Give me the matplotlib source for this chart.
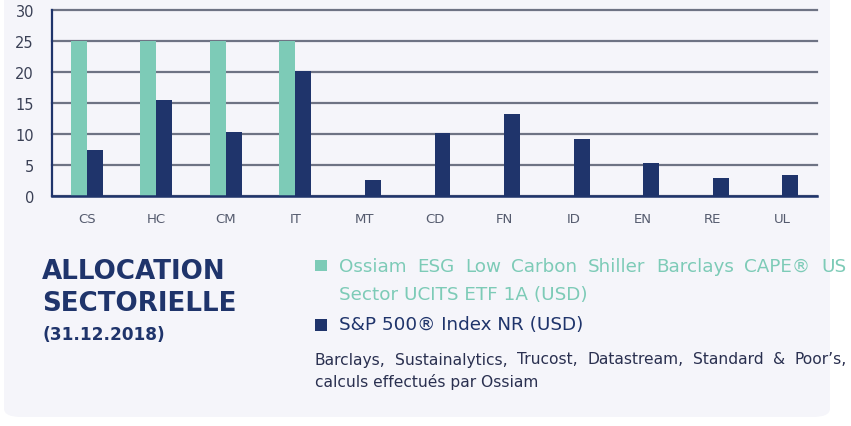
import matplotlib
matplotlib.use("Agg")
import matplotlib.pyplot as plt
from matplotlib.patches import FancyBboxPatch, Rectangle
import numpy as np

categories = ["CS", "HC", "CM", "IT", "MT", "CD", "FN", "ID", "EN", "RE", "UL"]
fund_values = [25, 25, 25, 25, 0, 0, 0, 0, 0, 0, 0]
index_values = [7.4, 15.5, 10.3, 20.1, 2.7, 10.1, 13.2, 9.2, 5.3, 3.0, 3.5]
y_ticks = [0, 5, 10, 15, 20, 25, 30]

fund_label_1 = "Ossiam ESG Low Carbon Shiller Barclays CAPE® US"
fund_label_2 = "Sector UCITS ETF 1A (USD)"
index_label = "S&P 500® Index NR (USD)"
source_1 = "Barclays, Sustainalytics, Trucost, Datastream, Standard & Poor’s,"
source_2 = "calculs effectués par Ossiam"

TEAL = "#7dcbb7"
NAVY = "#1f346b"
PANEL = "#f5f5fa"
GRID = "#6e7384"
TICK = "#555b6e"

W, H = 851, 427
fig = plt.figure(figsize=(W / 100, H / 100), dpi=100, facecolor="white")

# background panel
panel = FancyBboxPatch((4 / W, 9 / H), (830 - 4) / W, 1.2, boxstyle="round,pad=0,rounding_size=0.02",
                       transform=fig.transFigure, facecolor=PANEL, edgecolor="none", zorder=-5)
fig.patches.append(panel)

left, right, top, bottom = 52, 817, 10.7, 197.3
ax = fig.add_axes([left / W, 1 - bottom / H, (right - left) / W, (bottom - top) / H])
ax.set_facecolor("none")
ax.set_zorder(2)

x = np.arange(len(categories))
bw = 0.23
ax.bar(x - bw / 2, fund_values, width=bw, color=TEAL, zorder=3)
ax.bar(x + bw / 2, index_values, width=bw, color=NAVY, zorder=3)

ax.set_xlim(-0.5, len(categories) - 0.5)
ax.set_ylim(0, 30)
ax.set_yticks(y_ticks)
ax.set_xticks(x)
ax.set_xticklabels(categories)
ax.yaxis.grid(True, color=GRID, linewidth=1.6, zorder=1)
for gl in ax.get_ygridlines():
    gl.set_clip_on(False)
ax.set_axisbelow(True)
for s in ["top", "right"]:
    ax.spines[s].set_visible(False)
ax.spines["left"].set_color(NAVY)
ax.spines["left"].set_linewidth(1.6)
ax.spines["bottom"].set_color(NAVY)
ax.spines["bottom"].set_linewidth(1.8)
ax.spines["bottom"].set_zorder(4)
ax.tick_params(axis="both", length=0)
ax.tick_params(axis="y", labelsize=10.5, labelcolor="#3a4055", pad=13)
ax.tick_params(axis="x", labelsize=9.5, labelcolor=TICK, pad=11)
for lab in ax.get_yticklabels() + ax.get_xticklabels():
    lab.set_family("DejaVu Sans")

renderer = fig.canvas.get_renderer()


def justified(text, x0, x1, ypix, **kw):
    words = text.split(" ")
    arts = [fig.text(0, 0, w, va="center", ha="left", **kw) for w in words]
    widths = [a.get_window_extent(renderer).width for a in arts]
    gap = (x1 - x0 - sum(widths)) / max(len(words) - 1, 1)
    xp = x0
    for a, w in zip(arts, widths):
        a.set_position((xp / W, 1 - ypix / H))
        xp += w + gap


# Title block
fig.text(42 / W, 1 - 272 / H, "ALLOCATION", fontsize=18.8, fontweight="bold", family="DejaVu Sans",
         color=NAVY, va="center", ha="left")
fig.text(42 / W, 1 - 304 / H, "SECTORIELLE", fontsize=18.8, fontweight="bold", family="DejaVu Sans",
         color=NAVY, va="center", ha="left")
fig.text(42 / W, 1 - 335 / H, "(31.12.2018)", fontsize=12.2, fontweight="bold", family="DejaVu Sans",
         color=NAVY, va="center", ha="left")

# Legend
fig.patches.append(Rectangle((315 / W, 1 - 272 / H), 12 / W, 11 / H, transform=fig.transFigure,
                             facecolor=TEAL, edgecolor="none"))
justified(fund_label_1, 339, 846, 267, fontsize=13.2, family="DejaVu Sans", color=TEAL)
fig.text(339 / W, 1 - 295 / H, fund_label_2, fontsize=13.2, family="DejaVu Sans", color=TEAL,
         va="center", ha="left")
fig.patches.append(Rectangle((315 / W, 1 - 332 / H), 12 / W, 12 / H, transform=fig.transFigure,
                             facecolor=NAVY, edgecolor="none"))
fig.text(339 / W, 1 - 325 / H, index_label, fontsize=13.2, family="DejaVu Sans", color=NAVY,
         va="center", ha="left")

justified(source_1, 315, 847, 360, fontsize=11.2, family="DejaVu Sans", color="#2a3050")
fig.text(315 / W, 1 - 382 / H, source_2, fontsize=11.2, family="DejaVu Sans", color="#2a3050",
         va="center", ha="left")

fig.savefig("out.png", dpi=100, facecolor="white")
